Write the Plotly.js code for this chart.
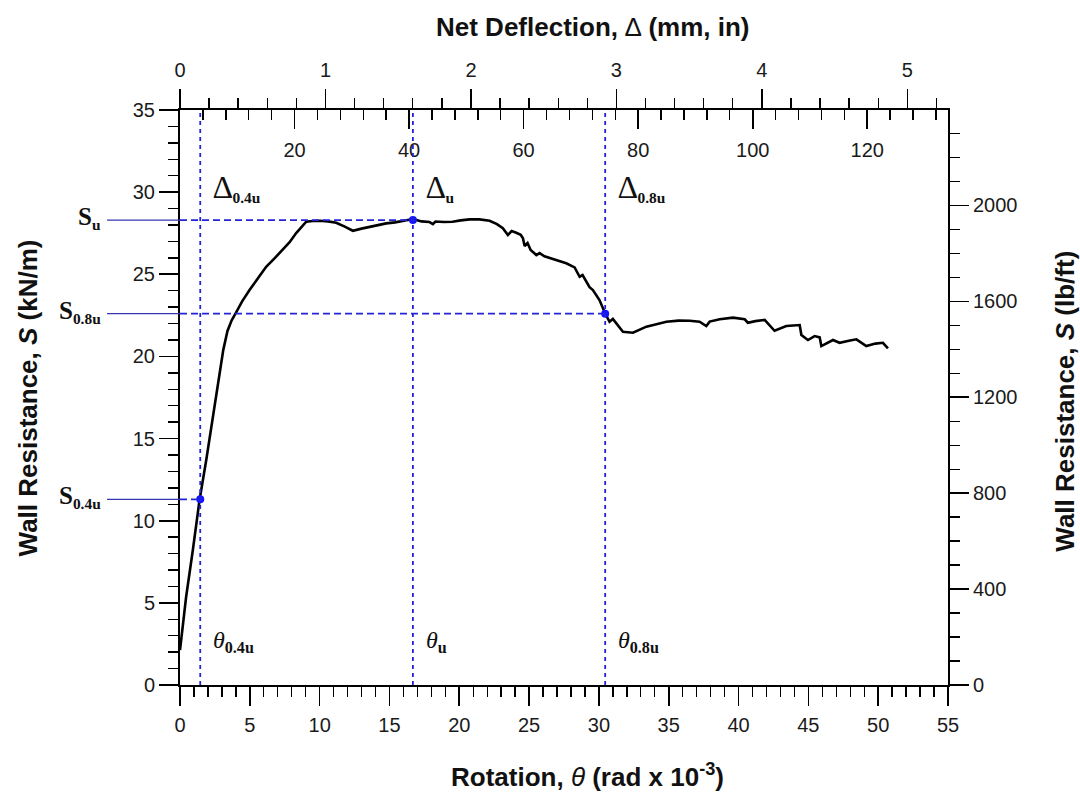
<!DOCTYPE html>
<html><head><meta charset="utf-8">
<script src="https://cdn.plot.ly/plotly-3.0.1.min.js"></script>
<style>html,body{margin:0;padding:0;background:#fff}</style>
</head><body><div id="chart" style="width:1080px;height:793px"></div>
<script>
// Rotation theta (rad x 10^-3) and wall resistance S (kN/m)
const rotation = [0, 0.44, 0.92, 1.40, 1.88, 2.35, 2.83, 3.10, 3.40, 3.70, 4.03, 4.45, 4.98, 5.55, 6.17, 6.75, 7.34, 7.85, 8.32, 8.70, 9.04, 9.50, 9.99, 10.60, 11.19, 11.80, 12.38, 13.00, 13.57, 14.20, 14.77, 15.40, 15.96, 16.68, 17.30, 17.87, 18.11, 18.30, 18.90, 19.52, 20.10, 20.74, 21.45, 22.17, 22.70, 23.12, 23.48, 23.75, 24.08, 24.40, 24.56, 24.68, 24.89, 25.11, 25.52, 25.75, 26.10, 26.54, 27.10, 27.66, 28.26, 28.62, 28.83, 29.10, 29.33, 29.57, 30.04, 30.45, 30.76, 31.00, 31.27, 31.72, 32.44, 33.40, 34.83, 35.70, 36.50, 37.21, 37.69, 37.93, 38.65, 39.60, 40.44, 40.67, 41.20, 41.87, 42.58, 43.42, 44.38, 44.50, 44.97, 45.45, 45.81, 45.93, 46.76, 47.24, 47.90, 48.44, 49.15, 49.80, 50.34, 50.70];
const resistance = [2.13, 5.37, 8.22, 11.26, 13.69, 16.33, 18.99, 20.40, 21.55, 22.20, 22.70, 23.35, 24.04, 24.75, 25.46, 25.95, 26.48, 26.95, 27.51, 27.90, 28.20, 28.24, 28.26, 28.22, 28.14, 27.90, 27.65, 27.78, 27.89, 27.98, 28.10, 28.16, 28.26, 28.36, 28.22, 28.18, 28.06, 28.21, 28.18, 28.20, 28.28, 28.34, 28.34, 28.26, 28.05, 27.80, 27.39, 27.63, 27.53, 27.40, 27.19, 26.72, 26.90, 26.48, 26.17, 26.29, 26.10, 25.97, 25.85, 25.67, 25.42, 24.85, 24.95, 24.55, 24.22, 24.04, 23.43, 22.62, 22.11, 22.28, 22.01, 21.50, 21.44, 21.81, 22.11, 22.18, 22.17, 22.11, 21.85, 22.12, 22.26, 22.36, 22.26, 22.05, 22.15, 22.22, 21.56, 21.85, 21.91, 21.30, 21.00, 21.24, 21.16, 20.63, 21.00, 20.83, 20.95, 21.04, 20.63, 20.78, 20.83, 20.49];

// characteristic points
const keyNames = ['0.4u', 'u', '0.8u'];
const keyRotation = [1.45, 16.68, 30.45];
const keyResistance = [11.3, 28.3, 22.6];

// axis ranges and unit conversions
const rotationRange = [0, 55];
const resistanceRange = [0, 35.0001];
const deflectionMaxMm = 134.1;      // net deflection (mm) at right edge of rotation axis
const mmPerInch = 25.4;
const lbftPerKNm = 68.5218;
const mmTickVals = [0, 20, 40, 60, 80, 100, 120];
const mmTickText = ['', '20', '40', '60', '80', '100', '120'];

const BLUE = '#2424d6';
const tickFont = {family: 'Liberation Sans, Arial, sans-serif', size: 20, color: '#1a1a1a'};
const axBase = {
  showgrid: false, zeroline: false, showline: true, linecolor: '#000', linewidth: 2,
  ticks: 'outside', ticklen: 19, tickwidth: 1.6, tickcolor: '#000', tickfont: tickFont,
  fixedrange: true
};
const minorOut = (d) => ({dtick: d, ticks: 'outside', ticklen: 10, tickwidth: 1.4, tickcolor: '#000', showgrid: false});

const traces = [
  {x: rotation, y: resistance, type: 'scatter', mode: 'lines',
   line: {color: '#000', width: 2.6}, xaxis: 'x', yaxis: 'y', hoverinfo: 'skip', showlegend: false},
  {x: keyRotation, y: keyResistance, type: 'scatter', mode: 'markers',
   marker: {color: '#1414ff', size: 8}, xaxis: 'x', yaxis: 'y', hoverinfo: 'skip', showlegend: false},
  {x: [], y: [], type: 'scatter', mode: 'lines', xaxis: 'x2', yaxis: 'y', showlegend: false, hoverinfo: 'skip'},
  {x: [], y: [], type: 'scatter', mode: 'lines', xaxis: 'x3', yaxis: 'y', showlegend: false, hoverinfo: 'skip'},
  {x: [], y: [], type: 'scatter', mode: 'lines', xaxis: 'x4', yaxis: 'y', showlegend: false, hoverinfo: 'skip'},
  {x: [], y: [], type: 'scatter', mode: 'lines', xaxis: 'x', yaxis: 'y2', showlegend: false, hoverinfo: 'skip'}
];

const shapes = [];
keyRotation.forEach((t, i) => {
  shapes.push({type: 'line', xref: 'x', yref: 'paper', x0: t, x1: t, y0: 0, y1: 1,
    line: {color: BLUE, width: 1.8, dash: '4px,4px'}, layer: 'above'});
  shapes.push({type: 'line', xref: 'x', yref: 'y', x0: rotationRange[0], x1: t,
    y0: keyResistance[i], y1: keyResistance[i],
    line: {color: BLUE, width: 1.8, dash: '7px,4px'}, layer: 'above'});
  shapes.push({type: 'line', xref: 'paper', yref: 'y', x0: -0.095, x1: 0,
    y0: keyResistance[i], y1: keyResistance[i],
    line: {color: '#3636b0', width: 1.2}, layer: 'above'});
});

const serif = 'Liberation Serif, Times New Roman, serif';
const annotations = [];
keyRotation.forEach((t, i) => {
  annotations.push({xref: 'x', yref: 'paper', x: t, y: 0.866, xanchor: 'left', yanchor: 'middle', xshift: 11,
    showarrow: false, font: {family: serif, size: 22, color: '#111'},
    text: "<span style='font-size:32px'>∆</span><sub><b>" + keyNames[i] + "</b></sub>"});
  annotations.push({xref: 'x', yref: 'paper', x: t, y: 0.076, xanchor: 'left', yanchor: 'middle', xshift: 11,
    showarrow: false, font: {family: serif, size: 23, color: '#111'},
    text: "<span style='font-size:24px'><i>θ</i></span><sub><b>" + keyNames[i] + "</b></sub>"});
  annotations.push({xref: 'paper', yref: 'y', x: -0.1, y: keyResistance[i], xanchor: 'right', yanchor: 'middle', yshift: 2,
    showarrow: false, font: {family: serif, size: 22, color: '#111'},
    text: "<span style='font-size:25px'><b>S</b></span><sub><b>" + keyNames[i] + "</b></sub>"});
});
const titleFont = {family: 'Liberation Sans, Arial, sans-serif', size: 26, color: '#111'};
annotations.push({xref: 'paper', yref: 'paper', x: 0.5378, y: 1.144, xanchor: 'center', yanchor: 'middle', showarrow: false,
  font: titleFont, text: "<b>Net Deflection, </b>∆<b> (mm, in)</b>"});
annotations.push({xref: 'paper', yref: 'paper', x: 0.531, y: -0.158, xanchor: 'center', yanchor: 'middle', showarrow: false,
  font: titleFont, text: "<b>Rotation, </b><i>θ</i><b> (rad x 10<sup>-3</sup>)</b>"});
annotations.push({xref: 'paper', yref: 'paper', x: -0.198, y: 0.5, xanchor: 'center', yanchor: 'middle', showarrow: false,
  textangle: -90, font: titleFont, text: "<b>Wall Resistance, <i>S</i> (kN/m)</b>"});
annotations.push({xref: 'paper', yref: 'paper', x: 1.152, y: 0.494, xanchor: 'center', yanchor: 'middle', showarrow: false,
  textangle: -90, font: titleFont, text: "<b>Wall Resistance, <i>S</i> (lb/ft)</b>"});

const layout = {
  width: 1080, height: 793,
  margin: {l: 180, r: 132, t: 110, b: 108, pad: 0},
  paper_bgcolor: '#fff', plot_bgcolor: '#fff',
  showlegend: false,
  xaxis: Object.assign({}, axBase, {range: rotationRange, tickmode: 'linear', tick0: 0, dtick: 5,
    minor: minorOut(1), anchor: 'y', side: 'bottom', ticklabelstandoff: 2}),
  yaxis: Object.assign({}, axBase, {range: resistanceRange, tickmode: 'linear', tick0: 0, dtick: 5,
    minor: minorOut(1), anchor: 'x', side: 'left'}),
  yaxis2: Object.assign({}, axBase, {range: [resistanceRange[0] * lbftPerKNm, resistanceRange[1] * lbftPerKNm],
    tickmode: 'linear', tick0: 0, dtick: 400, minor: minorOut(100), overlaying: 'y', side: 'right', anchor: 'x'}),
  xaxis2: Object.assign({}, axBase, {range: [0, deflectionMaxMm / mmPerInch], tickmode: 'linear', tick0: 0, dtick: 1,
    minor: minorOut(0.2), overlaying: 'x', side: 'top', anchor: 'y', ticklabelstandoff: 4}),
  // mm ticks (inside the frame)
  xaxis3: Object.assign({}, axBase, {range: [0, deflectionMaxMm], tickmode: 'array', tickvals: mmTickVals,
    ticks: 'inside', showticklabels: false, showline: false,
    minor: {tickmode: 'linear', tick0: 0, dtick: 4, ticks: 'inside', ticklen: 10, tickwidth: 1.4, tickcolor: '#000', showgrid: false},
    overlaying: 'x', side: 'top', anchor: 'y'}),
  // mm tick labels, drawn just below the top frame
  xaxis4: Object.assign({}, axBase, {range: [0, deflectionMaxMm], tickmode: 'array', tickvals: mmTickVals, ticktext: mmTickText,
    ticks: '', showline: false, overlaying: 'x', side: 'top', anchor: 'free', position: 0.912}),
  shapes: shapes,
  annotations: annotations
};

Plotly.newPlot('chart', traces, layout, {displayModeBar: false, staticPlot: true});
</script>
</body></html>
